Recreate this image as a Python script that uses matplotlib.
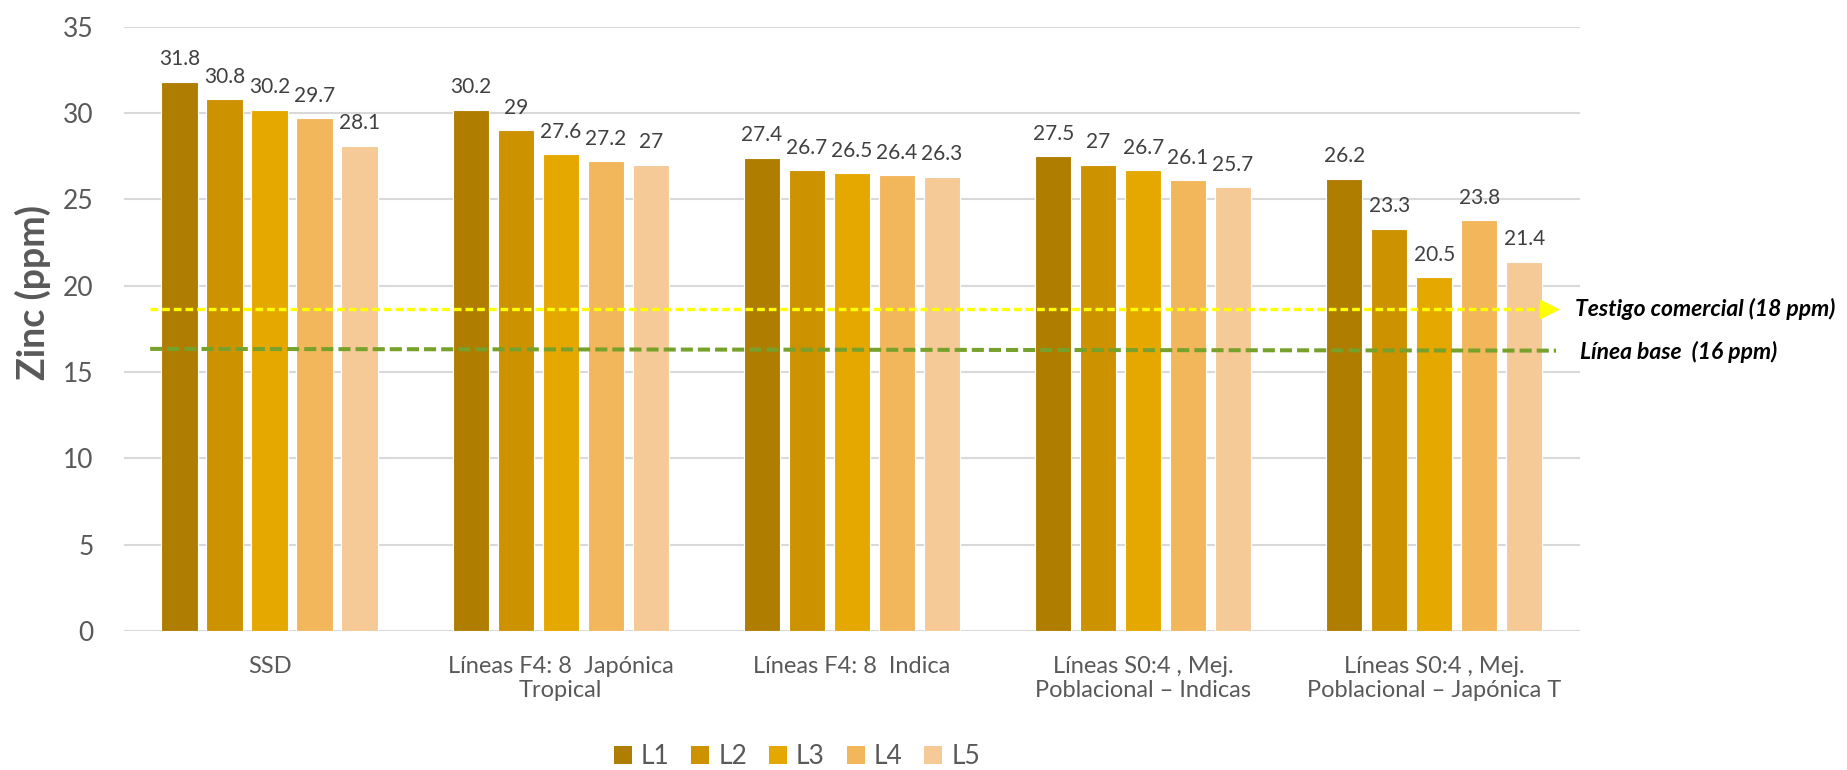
import numpy as np
import matplotlib
matplotlib.use("Agg")
import matplotlib.pyplot as plt
from matplotlib.patches import Patch

plt.rcParams['font.family'] = ['Lato', 'DejaVu Sans']

# data
categories = ["SSD", "Líneas F4: 8  Japónica\nTropical", "Líneas F4: 8  Indica",
              "Líneas S0:4 , Mej.\nPoblacional – Indicas",
              "Líneas S0:4 , Mej.\nPoblacional – Japónica T"]
series = ["L1", "L2", "L3", "L4", "L5"]
L1 = [31.8, 30.2, 27.4, 27.5, 26.2]
L2 = [30.8, 29.0, 26.7, 27.0, 23.3]
L3 = [30.2, 27.6, 26.5, 26.7, 20.5]
L4 = [29.7, 27.2, 26.4, 26.1, 23.8]
L5 = [28.1, 27.0, 26.3, 25.7, 21.4]
values = [L1, L2, L3, L4, L5]
labels = [["31.8", "30.2", "27.4", "27.5", "26.2"],
          ["30.8", "29", "26.7", "27", "23.3"],
          ["30.2", "27.6", "26.5", "26.7", "20.5"],
          ["29.7", "27.2", "26.4", "26.1", "23.8"],
          ["28.1", "27", "26.3", "25.7", "21.4"]]
colors = ["#AF7D00", "#CC9200", "#E5A800", "#F2B65B", "#F5CA96"]

testigo_y = 18.65
base_y = [16.34, 16.24]

fig = plt.figure(figsize=(18.47, 7.70), dpi=100)
ax = fig.add_axes([0.0671, 0.1805, 0.7883, 0.7848])

x = np.arange(len(categories))
pitch = 0.1545
width = 0.124
for i, (vals, lab, c) in enumerate(zip(values, labels, colors)):
    pos = x + (i - 2) * pitch
    ax.bar(pos, vals, width=width, color=c, edgecolor="white", linewidth=0.8, zorder=2)
    for px, v, t in zip(pos, vals, lab):
        ax.annotate(t, (px, v), xytext=(0, 9), textcoords="offset points",
                    ha="center", va="bottom", fontsize=15, color="#404040")

# reference lines
ax.plot([-0.41, 4.36], [testigo_y, testigo_y], color="#FFFF00", lw=2.4,
        dashes=(2.3, 1.2), zorder=3)
ax.plot([4.395], [testigo_y], marker=">", color="#FFFF00", markersize=13,
        linestyle="none", zorder=3, clip_on=False)
ax.plot([-0.41, 4.418], base_y, color="#76A12B", lw=2.9,
        dashes=(3.0, 1.25), zorder=3, clip_on=False)

ax.text(1575 / 1847, 1 - 309 / 770, "Testigo comercial (18 ppm)", transform=fig.transFigure,
        fontsize=16.5, fontweight="bold", fontstyle="italic", color="black",
        ha="left", va="center")
ax.text(1580 / 1847, 1 - 352 / 770, "Línea base  (16 ppm)", transform=fig.transFigure,
        fontsize=16.5, fontweight="bold", fontstyle="italic", color="black",
        ha="left", va="center")

ax.set_xlim(-0.5, 4.5)
ax.set_ylim(0, 35)
ax.set_yticks(np.arange(0, 36, 5))
ax.set_xticks(x)
ax.set_xticklabels(categories, fontsize=17, color="#595959", linespacing=1.15)
ax.tick_params(axis="y", length=0, pad=22, labelsize=19, labelcolor="#595959")
ax.tick_params(axis="x", length=0, pad=18)
ax.grid(axis="y", color="#D9D9D9", linewidth=1.5, zorder=0)
ax.set_axisbelow(True)
for s in ax.spines.values():
    s.set_visible(False)

fig.text(33 / 1847, 1 - 293 / 770, "Zinc (ppm)", rotation=90, fontsize=27,
         fontweight="bold", color="#595959", ha="center", va="center")

handles = [Patch(facecolor=c, edgecolor="none") for c in colors]
fig.legend(handles, series, loc="center", bbox_to_anchor=(797 / 1847, 1 - 757 / 770),
           ncol=5, frameon=False, fontsize=19, labelcolor="#595959",
           handlelength=0.68, handleheight=0.68, handletextpad=0.34,
           columnspacing=0.83)

fig.savefig("out.png", dpi=100)
